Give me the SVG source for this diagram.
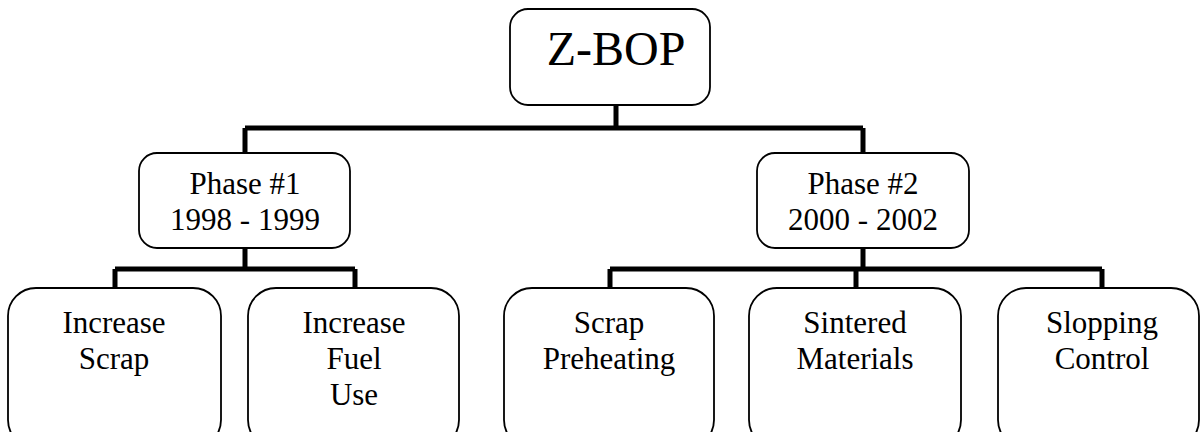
<svg xmlns="http://www.w3.org/2000/svg" width="1202" height="432" viewBox="0 0 1202 432">
<style>
.box{fill:#fff;stroke:#000;stroke-width:1.8}
.t{font-family:'Liberation Serif','Times New Roman',serif;font-size:31px;fill:#000;text-anchor:middle}
.big{font-size:48px}
.c{fill:none;stroke:#000;stroke-width:5;stroke-linecap:butt}
</style>
<rect width="1202" height="432" fill="#fff"/>
<g id="connectors">
<path class="c" d="M616 105V128M245 128H863M245 128V153M863 128V153"/>
<path class="c" d="M245 248V269M115 269H355M115 269V288M355 269V288"/>
<path class="c" d="M863 248V269M610 269H1102M610 269V288M856 269V288M1102 269V288"/>
</g>
<g id="zbop"><rect class="box" x="510" y="9" width="200" height="96" rx="18"/><text class="t big" x="616" y="65">Z-BOP</text></g>
<g id="phase1"><rect class="box" x="139" y="153" width="211" height="95" rx="18"/><text class="t" x="245" y="194">Phase #1</text><text class="t" x="245" y="230">1998 - 1999</text></g>
<g id="phase2"><rect class="box" x="757" y="153" width="212" height="95" rx="18"/><text class="t" x="863" y="194">Phase #2</text><text class="t" x="863" y="230">2000 - 2002</text></g>
<g id="incscrap"><rect class="box" x="8" y="288" width="213" height="160" rx="28"/><text class="t" x="114" y="333">Increase</text><text class="t" x="114" y="369">Scrap</text></g>
<g id="incfuel"><rect class="box" x="248" y="288" width="211" height="160" rx="28"/><text class="t" x="354" y="333">Increase</text><text class="t" x="354" y="369">Fuel</text><text class="t" x="354" y="405">Use</text></g>
<g id="preheat"><rect class="box" x="504" y="288" width="210" height="160" rx="28"/><text class="t" x="609" y="333">Scrap</text><text class="t" x="609" y="369">Preheating</text></g>
<g id="sinter"><rect class="box" x="749" y="288" width="212" height="160" rx="28"/><text class="t" x="855" y="333">Sintered</text><text class="t" x="855" y="369">Materials</text></g>
<g id="slop"><rect class="box" x="998" y="288" width="201" height="160" rx="28"/><text class="t" x="1102" y="333">Slopping</text><text class="t" x="1102" y="369">Control</text></g>
</svg>
